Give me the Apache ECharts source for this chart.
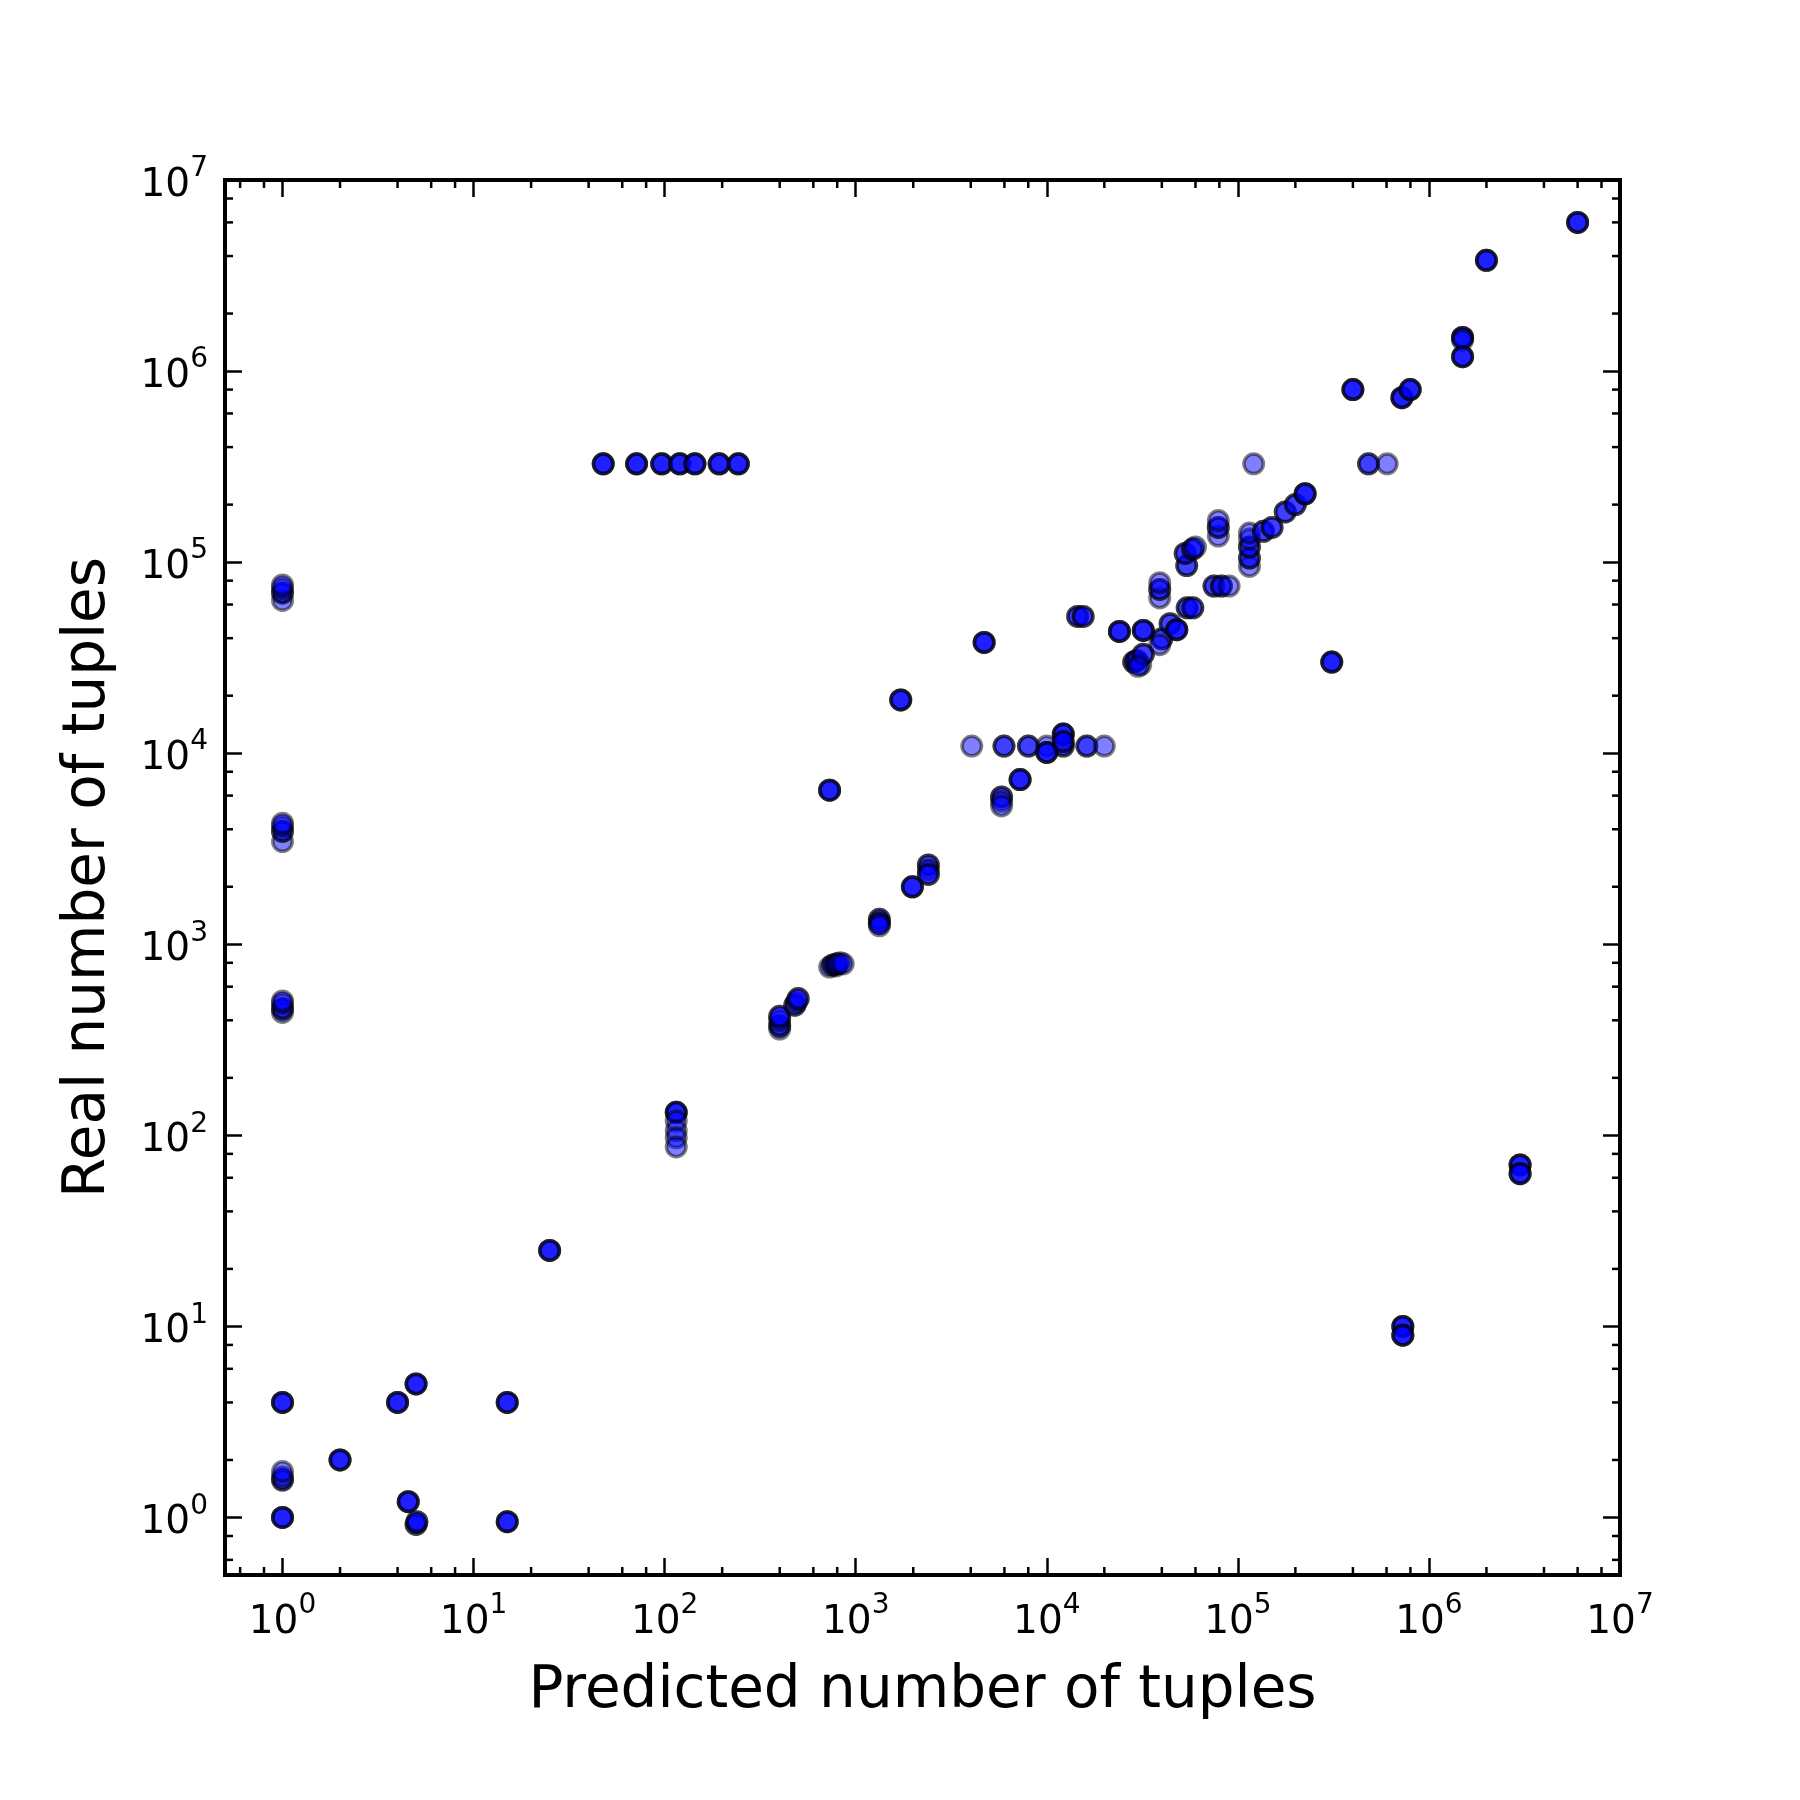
<!DOCTYPE html>
<html><head><meta charset="utf-8">
<script src="https://cdn.jsdelivr.net/npm/echarts@6/dist/echarts.min.js"></script>
<style>html,body{margin:0;padding:0;background:#fff}#c{width:1800px;height:1800px}</style>
</head><body><div id="c"></div>
<script>
// Predicted vs real number of tuples; repeats = number of identical (overlapping) observations
const predicted = [
  1,1,1,1,1,1,1,1,1,1,1,1,1,1,1,1,1,
  2,4,5,4.55,5,5.05,15,15,25,
  47.7,71.3,96.5,120,144,193,243,
  115,115,115,115,115,
  400,400,400,400,480,490,500,
  730,760,790,800,830,860,
  730,1720,1330,1330,1330,1980,2400,2400,2400,4700,
  4050,5970,8010,10000,12200,16200,20000,
  10000,12200,12200,7250,5800,5800,5800,
  14500,15500,24000,28500,29600,31000,32000,30000,32000,
  40000,39000,44200,47900,54300,58100,39000,39000,39000,
  75000,82000,90000,54000,53000,58000,60000,79000,79000,79000,
  115000,115000,115000,115000,115000,121000,
  136000,151000,177000,200000,225000,310000,
  400000,483000,605000,722000,798000,
  1500000,1500000,1500000,2000000,6000000,
  3000000,3000000,730000,730000
];
const real = [
  1,1.57,1.63,1.74,4,440,460,490,505,3450,3900,4150,4300,63000,69000,73000,76000,
  2,4,5,1.21,0.92,0.95,4,0.95,25,
  327000,327000,327000,327000,327000,327000,327000,
  132,119,106,97,87,
  360,375,400,420,480,500,520,
  760,780,770,790,800,790,
  6400,19000,1350,1290,1250,2000,2600,2450,2320,38000,
  10900,10900,10900,10900,10900,10900,10900,
  10100,12600,11500,7280,5900,5600,5300,
  52000,52000,43400,30000,30600,29000,33000,28500,43900,
  39700,37000,47600,44300,57700,57700,65000,72000,78000,
  75000,75000,75000,96000,111000,117000,120000,137000,152000,165000,
  95000,105000,120000,132000,142000,327000,
  145000,152000,183000,200000,228000,30000,
  800000,327000,327000,726000,800000,
  1500000,1450000,1190000,3800000,6000000,
  70,63,10,9
];
const repeats = [
  3,2,1,1,3,1,2,1,1,1,2,1,1,1,2,1,1,
  3,3,3,3,2,2,3,3,3,
  3,3,3,3,3,3,3,
  3,1,1,1,1,
  1,2,1,2,2,1,2,
  1,2,1,2,1,1,
  3,3,2,2,1,3,2,1,2,3,
  1,2,2,1,2,2,1,
  3,3,2,3,2,1,1,
  2,2,3,2,2,1,2,1,3,
  2,1,2,3,2,2,1,2,1,
  2,2,1,2,2,2,1,1,2,1,
  1,2,2,1,1,1,
  2,2,2,2,3,3,
  3,2,1,3,3,
  3,1,3,3,3,
  3,3,3,3
];
const axisMin = 0.5, axisMax = 1e7;
const minorSubs = [2, 4, 6, 8];
const xTitle = 'Predicted number of tuples';
const yTitle = 'Real number of tuples';

const FONT = 'DejaVu Sans';
const points = [];
predicted.forEach((p, i) => { for (let k = 0; k < repeats[i]; k++) points.push([p, real[i]]); });

const minorVals = [];
for (let e = -1; e <= 6; e++) minorSubs.forEach(m => { const v = m * Math.pow(10, e); if (v > axisMin && v < axisMax) minorVals.push(v); });

function fmt(v) {
  const e = Math.round(Math.log10(v));
  if (Math.abs(v - Math.pow(10, e)) > 1e-6 * v) return '';
  return '{b|10}{s|' + e + '}';
}
const rich = {
  b: { fontSize: 39, lineHeight: 50, verticalAlign: 'bottom', fontFamily: FONT, color: '#000' },
  s: { fontSize: 28, lineHeight: 17, verticalAlign: 'top', fontFamily: FONT, color: '#000' }
};
const tickStyle = { color: '#000', width: 2.5 };
function baseAxis(pos, showLabel, extra) {
  return Object.assign({
    type: 'log', logBase: 10, min: axisMin, max: axisMax, position: pos,
    axisLine: { show: false, onZero: false },
    axisTick: { show: true, inside: true, length: 17, lineStyle: tickStyle },
    minorTick: { show: false },
    splitLine: { show: false },
    axisLabel: showLabel ? { show: true, formatter: fmt, rich: rich, showMinLabel: true, showMaxLabel: true } : { show: false }
  }, extra || {});
}
const L = 8;
const tStyle = { stroke: '#000', lineWidth: 2.5 };
function renderX(params, api) {
  const cs = params.coordSys;
  const x = api.coord([api.value(0), 1])[0];
  const yb = cs.y + cs.height, yt = cs.y;
  return { type: 'group', children: [
    { type: 'line', shape: { x1: x, y1: yb, x2: x, y2: yb - L }, style: tStyle },
    { type: 'line', shape: { x1: x, y1: yt, x2: x, y2: yt + L }, style: tStyle }
  ]};
}
function renderY(params, api) {
  const cs = params.coordSys;
  const y = api.coord([1, api.value(1)])[1];
  const xl = cs.x, xr = cs.x + cs.width;
  return { type: 'group', children: [
    { type: 'line', shape: { x1: xl, y1: y, x2: xl + L, y2: y }, style: tStyle },
    { type: 'line', shape: { x1: xr, y1: y, x2: xr - L, y2: y }, style: tStyle }
  ]};
}

const chart = echarts.init(document.getElementById('c'), null, { renderer: 'canvas' });
chart.setOption({
  animation: false,
  backgroundColor: '#fff',
  grid: { left: 225, top: 180, width: 1395, height: 1395, show: true, borderColor: '#000', borderWidth: 4, backgroundColor: 'transparent', outerBoundsMode: 'none', containLabel: false },
  xAxis: [
    baseAxis('bottom', true, { axisLabel: { show: true, formatter: fmt, rich: rich, margin: 17, showMinLabel: true, showMaxLabel: true },
      name: xTitle, nameLocation: 'middle', nameGap: 88, nameTextStyle: { fontSize: 58, fontFamily: FONT, color: '#000' } }),
    baseAxis('top', false)
  ],
  yAxis: [
    baseAxis('left', true, { axisLabel: { show: true, formatter: fmt, rich: rich, margin: 17, showMinLabel: true, showMaxLabel: true },
      name: yTitle, nameLocation: 'middle', nameGap: 107, nameTextStyle: { fontSize: 58, fontFamily: FONT, color: '#000' } }),
    baseAxis('right', false)
  ],
  series: [
    { type: 'scatter', xAxisIndex: 0, yAxisIndex: 0, data: points, symbol: 'circle', symbolSize: 19.5,
      itemStyle: { color: '#0000ff', borderColor: '#000', borderWidth: 3.5, opacity: 0.5 },
      emphasis: { disabled: true }, silent: true, clip: true, z: 2 },
    { type: 'custom', xAxisIndex: 0, yAxisIndex: 0, data: minorVals.map(v => [v, 1]), renderItem: renderX, silent: true, z: 3, clip: false },
    { type: 'custom', xAxisIndex: 0, yAxisIndex: 0, data: minorVals.map(v => [1, v]), renderItem: renderY, silent: true, z: 3, clip: false }
  ]
});
</script></body></html>
